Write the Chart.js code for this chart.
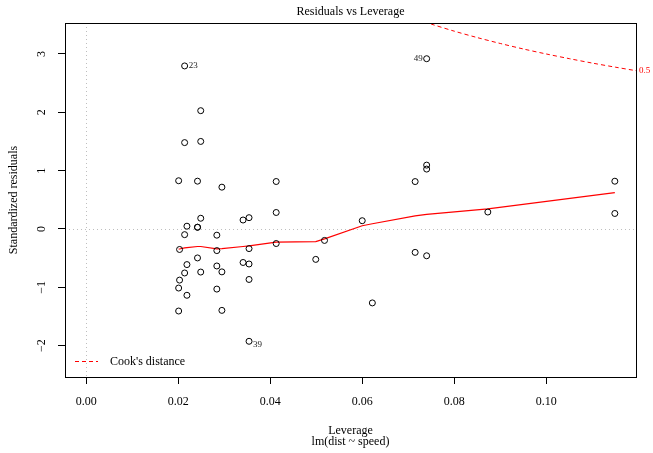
<!DOCTYPE html>
<html>
<head>
<meta charset="utf-8">
<title>Residuals vs Leverage</title>
<script src="https://cdn.jsdelivr.net/npm/chart.js@4.4.1/dist/chart.umd.min.js"></script>
<style>
  html, body { margin: 0; padding: 0; background: #ffffff; }
  canvas { display: block; }
</style>
</head>
<body>
<canvas id="chart" width="653" height="453"></canvas>
<script>
// Leverage (hat values) and standardized residuals for lm(dist ~ speed), observations 1..50
const leverage = [
  0.1149, 0.1149, 0.0715, 0.0715, 0.0600, 0.0499, 0.0413, 0.0413, 0.0413, 0.0341,
  0.0341, 0.0284, 0.0284, 0.0284, 0.0284, 0.0242, 0.0242, 0.0242, 0.0242, 0.0214,
  0.0214, 0.0214, 0.0214, 0.0201, 0.0201, 0.0201, 0.0203, 0.0203, 0.0219, 0.0219,
  0.0219, 0.0249, 0.0249, 0.0249, 0.0249, 0.0295, 0.0295, 0.0295, 0.0354, 0.0354,
  0.0354, 0.0354, 0.0354, 0.0518, 0.0622, 0.0740, 0.0740, 0.0740, 0.0740, 0.0873
];
const stdResid = [
   0.266,  0.819, -0.401,  0.813,  0.142, -0.521, -0.249,  0.283,  0.814, -0.574,
   0.154, -1.030, -0.634, -0.370, -0.106, -0.496,  0.030,  0.030,  0.820, -0.754,
  -0.097,  1.481,  2.795, -1.406, -1.012,  0.827, -0.876, -0.351, -1.136, -0.610,
   0.048, -0.738,  0.184,  1.501,  2.028, -1.395, -0.735,  0.717, -1.925, -0.865,
  -0.600, -0.336,  0.194, -0.196, -1.267, -0.459,  1.027,  1.095,  2.919,  0.291
];

// Smoothed trend through the residuals
const smoothLev = [0.0201, 0.0203, 0.0214, 0.0219, 0.0242, 0.0249, 0.0284, 0.0295, 0.0341, 0.0354,
                   0.0413, 0.0499, 0.0518, 0.0600, 0.0622, 0.0715, 0.0740, 0.0873, 0.1149];
const smoothVal = [-0.345, -0.343, -0.325, -0.318, -0.300, -0.300, -0.340, -0.335, -0.300, -0.290,
                   -0.225, -0.215, -0.170, 0.055, 0.090, 0.226, 0.250, 0.346, 0.625];

// Cook's distance contour (level 0.5)
const cookLevels = ['0.5'];
const cookLev = [0.0735, 0.0750, 0.0800, 0.0850, 0.0900, 0.0950, 0.1000, 0.1050, 0.1100, 0.1150, 0.1195];
const cookVal = [3.550, 3.512, 3.391, 3.281, 3.180, 3.086, 3.000, 2.920, 2.844, 2.774, 2.714];

// Observations flagged with their index
const flagged = [23, 49, 39];

// Axis ticks and limits
const xTicks = [0, 0.02, 0.04, 0.06, 0.08, 0.10];
const yTicks = [-2, -1, 0, 1, 2, 3];
const xRange = [-0.0046, 0.1195];
const yRange = [-2.537, 3.531];

const SERIF = '"Liberation Serif", "Times New Roman", "DejaVu Serif", serif';
const pts = leverage.map((h, i) => ({ x: h, y: stdResid[i] }));
const smooth = smoothLev.map((h, i) => ({ x: h, y: smoothVal[i] }));
const cook = cookLev.map((h, i) => ({ x: h, y: cookVal[i] }));

const fmtMinus = v => String(v).replace('-', '\u2212');

const decor = {
  id: 'decor',
  beforeDatasetsDraw(chart) {
    const { ctx, chartArea: a, scales: { x, y } } = chart;
    ctx.save();
    ctx.beginPath();
    ctx.rect(a.left, a.top, a.right - a.left, a.bottom - a.top);
    ctx.clip();
    ctx.strokeStyle = '#BEBEBE';
    ctx.lineWidth = 1;
    ctx.setLineDash([1, 3]);
    const x0 = Math.round(x.getPixelForValue(0)) + 0.5;
    const y0 = Math.round(y.getPixelForValue(0)) + 0.5;
    ctx.beginPath();
    ctx.moveTo(x0, a.top); ctx.lineTo(x0, a.bottom);
    ctx.moveTo(a.left, y0); ctx.lineTo(a.right, y0);
    ctx.stroke();
    ctx.restore();
  },
  afterDraw(chart) {
    const { ctx, chartArea: a, scales: { x, y } } = chart;
    ctx.save();

    // plot frame
    ctx.strokeStyle = '#000';
    ctx.lineWidth = 1;
    ctx.setLineDash([]);
    ctx.strokeRect(Math.round(a.left) + 0.5, Math.round(a.top) + 0.5,
                   Math.round(a.right - a.left), Math.round(a.bottom - a.top));

    // y tick labels, written parallel to the axis
    ctx.fillStyle = '#000';
    ctx.font = '12px ' + SERIF;
    ctx.textAlign = 'center';
    ctx.textBaseline = 'middle';
    yTicks.forEach(v => {
      ctx.save();
      ctx.translate(41.5, y.getPixelForValue(v));
      ctx.rotate(-Math.PI / 2);
      ctx.fillText(fmtMinus(v), 0, 0);
      ctx.restore();
    });

    // main title
    ctx.font = '12px ' + SERIF;
    ctx.fillText('Residuals vs Leverage', (a.left + a.right) / 2, 12);

    // index labels of flagged points
    ctx.font = '9px ' + SERIF;
    ctx.fillStyle = '#222';
    const midX = (xRange[0] + xRange[1]) / 2;
    flagged.forEach(n => {
      const h = leverage[n - 1], r = stdResid[n - 1];
      const px = x.getPixelForValue(h);
      let py = y.getPixelForValue(r);
      if (r < 0) py += 3;
      if (h > midX) {
        ctx.textAlign = 'right';
        ctx.fillText(String(n), px - 4, py);
      } else {
        ctx.textAlign = 'left';
        ctx.fillText(String(n), px + 4, py);
      }
    });

    // contour level label in the right margin
    ctx.fillStyle = '#FF0000';
    ctx.textAlign = 'left';
    ctx.fillText(cookLevels[0], a.right + 3, y.getPixelForValue(cookVal[cookVal.length - 1]));

    // legend: red dashed key followed by its label
    const ly = Math.round(a.bottom - 16);
    ctx.fillStyle = '#FF0000';
    for (let dx = 10; dx < 33; dx += 7) {
      ctx.fillRect(Math.round(a.left) + dx, ly, Math.min(4, 33 - dx), 1);
    }
    ctx.fillStyle = '#000';
    ctx.font = '12px ' + SERIF;
    ctx.textBaseline = 'middle';
    ctx.fillText("Cook's distance", a.left + 45, ly + 0.5);

    ctx.restore();
  }
};

new Chart(document.getElementById('chart'), {
  type: 'scatter',
  data: {
    datasets: [
      {
        label: 'Residuals',
        data: pts,
        pointStyle: 'circle',
        pointRadius: 3,
        pointHoverRadius: 3,
        borderColor: '#000',
        borderWidth: 1,
        backgroundColor: 'rgba(0,0,0,0)',
        order: 1
      },
      {
        label: 'Smooth',
        type: 'line',
        data: smooth,
        borderColor: '#FF0000',
        borderWidth: 1.2,
        pointRadius: 0,
        tension: 0,
        fill: false,
        order: 2
      },
      {
        label: "Cook's distance",
        type: 'line',
        data: cook,
        borderColor: '#FF0000',
        borderWidth: 1,
        borderDash: [4, 3],
        pointRadius: 0,
        tension: 0.3,
        fill: false,
        order: 3
      }
    ]
  },
  options: {
    responsive: false,
    animation: false,
    events: [],
    layout: { padding: { top: 23, right: 17, left: 0, bottom: 0 } },
    plugins: {
      legend: { display: false },
      tooltip: { enabled: false },
      title: { display: false }
    },
    scales: {
      x: {
        type: 'linear',
        min: xRange[0],
        max: xRange[1],
        afterBuildTicks: s => { s.ticks = xTicks.map(v => ({ value: v })); },
        afterFit: s => { s.height = 76; },
        border: { display: false },
        grid: { display: true, drawOnChartArea: false, drawTicks: true, tickLength: 7, color: '#000', lineWidth: 1 },
        ticks: {
          padding: 11,
          color: '#000',
          font: { family: SERIF, size: 12, lineHeight: 1.2 },
          maxRotation: 0,
          autoSkip: false,
          callback: v => Number(v).toFixed(2)
        },
        title: {
          display: true,
          text: ['Leverage', 'lm(dist ~ speed)'],
          color: '#000',
          font: { family: SERIF, size: 12, lineHeight: 0.95 },
          padding: { top: 0, bottom: 5 }
        }
      },
      y: {
        type: 'linear',
        min: yRange[0],
        max: yRange[1],
        afterBuildTicks: s => { s.ticks = yTicks.map(v => ({ value: v })); },
        afterFit: s => { s.width = 65; },
        border: { display: false },
        grid: { display: true, drawOnChartArea: false, drawTicks: true, tickLength: 7, color: '#000', lineWidth: 1 },
        ticks: { display: false },
        title: {
          display: true,
          text: 'Standardized residuals',
          color: '#000',
          font: { family: SERIF, size: 12, lineHeight: 1.2 },
          padding: { top: 7, bottom: 0 }
        }
      }
    }
  },
  plugins: [decor]
});
</script>
</body>
</html>
